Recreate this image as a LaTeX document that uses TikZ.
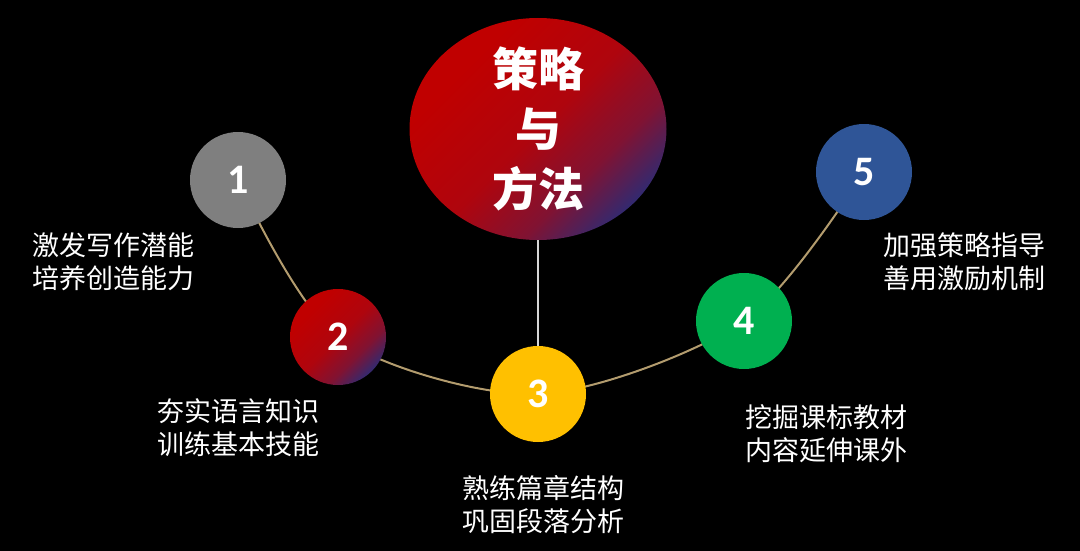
\documentclass[tikz,border=0pt]{standalone}
\usepackage{fontspec}
\newfontfamily\cjk{Noto Sans CJK SC}
\newfontfamily\numfont{Carlito}
\usetikzlibrary{shapes.geometric,backgrounds}
\definecolor{badgegray}{HTML}{7F7F7F}
\definecolor{badgered}{HTML}{C00000}
\definecolor{badgepurple}{HTML}{33296F}
\definecolor{badgegold}{HTML}{FFC000}
\definecolor{badgegreen}{HTML}{00B050}
\definecolor{badgeblue}{HTML}{2F5597}
\definecolor{arctan}{HTML}{B39C6E}
\definecolor{stemgray}{HTML}{D6D6D6}
\pgfdeclarehorizontalshading{redfadeshade}{100bp}{
  color(0bp)=(badgered); color(30bp)=(badgered);
  color(50bp)=(badgered!88!badgepurple);
  color(64bp)=(badgered!55!badgepurple);
  color(75bp)=(badgepurple); color(100bp)=(badgepurple)}

\begin{document}
\begin{tikzpicture}[
  x=1pt,y=-1pt,
  badge/.style={circle,minimum size=96pt,inner sep=0pt,text=white,
                font=\numfont\bfseries\fontsize{42}{42}\selectfont},
  redfade/.style={shading=redfadeshade,shading angle=-45},
  note/.style={anchor=west,align=left,inner sep=0pt,text=white,
               font=\cjk\fontsize{27}{33}\selectfont},
  arcline/.style={draw=arctan,line width=2pt},
  stem/.style={draw=stemgray,line width=2pt}
]
% centre ellipse
\node[ellipse,draw=none,minimum width=257pt,minimum height=222pt,
      inner sep=0pt,redfade] (core) at (538,129) {};
\node[text=white,align=center,inner sep=0pt,
      font=\cjk\bfseries\fontsize{46}{60}\selectfont] (title) at (core)
  {策略\\与\\方法};
% numbered badges
\node[badge,fill=badgegray] (c1) at (238,180) {1};
\node[badge,redfade] (c2) at (338,337) {2};
\node[badge,fill=badgegold] (c3) at (538,394) {3};
\node[badge,fill=badgegreen] (c4) at (744,321) {4};
\node[badge,fill=badgeblue] (c5) at (864,172) {5};
% captions
\node[note] (t1) at (32,261.5) {激发写作潜能\\培养创造能力};
\node[note] (t2) at (157,427.5) {夯实语言知识\\训练基本技能};
\node[note] (t3) at (462,505) {熟练篇章结构\\巩固段落分析};
\node[note] (t4) at (745,434) {挖掘课标教材\\内容延伸课外};
\node[note] (t5) at (883,261.5) {加强策略指导\\善用激励机制};
\begin{scope}[on background layer]
  \fill[black] (0,0) rectangle (1080,551);
  \draw[arcline] plot[smooth] coordinates
    {(c1.center) (c2.center) (c3.center) (c4.center) (c5.center)};
  \draw[stem] (core.south) -- (c3.north);
\end{scope}
\end{tikzpicture}
\end{document}
